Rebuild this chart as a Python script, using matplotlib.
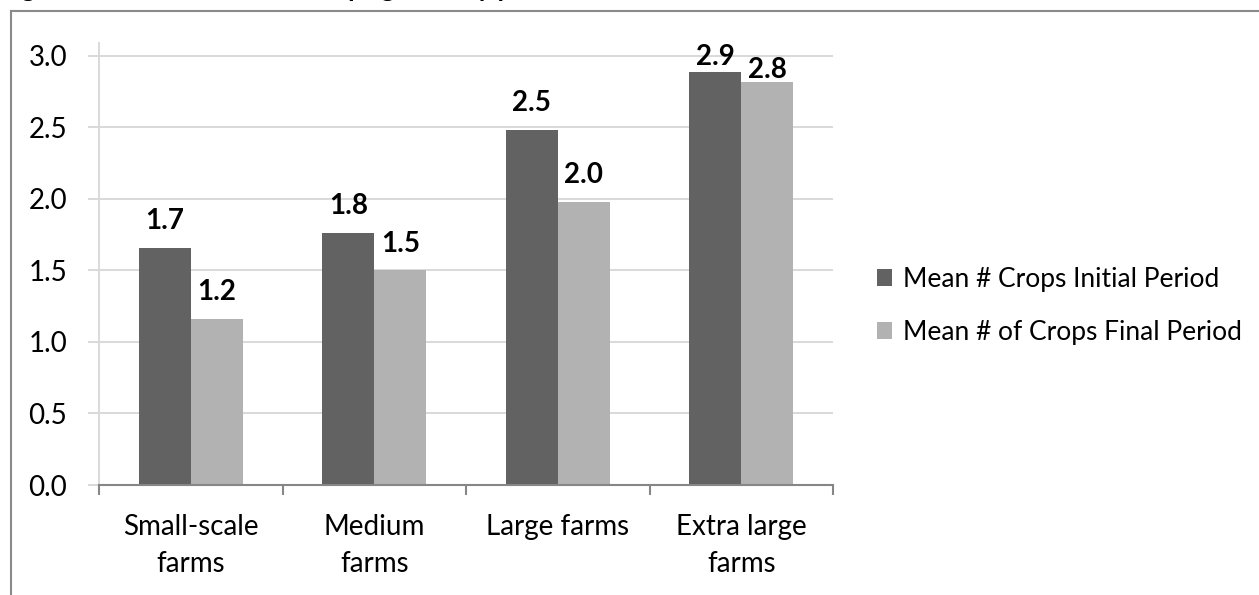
import matplotlib.pyplot as plt
import numpy as np
from matplotlib.lines import Line2D

FONT = "Lato"
DARK = "#626262"
LIGHT = "#b2b2b2"
GRID = "#d9d9d9"
AXIS = "#868686"
TEXT_SIZE = 20

categories = ["Small-scale\nfarms", "Medium\nfarms", "Large farms", "Extra large\nfarms"]
initial_period = [1.66, 1.76, 2.48, 2.89]
final_period = [1.16, 1.50, 1.98, 2.82]
series_names = ["Mean # Crops Initial Period", "Mean # of Crops Final Period"]
y_ticks = [0.0, 0.5, 1.0, 1.5, 2.0, 2.5, 3.0]

plt.rcParams["font.family"] = [FONT, "DejaVu Sans"]

W, H = 1259, 595
fig = plt.figure(figsize=(W / 100, H / 100), dpi=100)

# frame around the chart object (cut on the right and at the bottom)
fig.add_artist(Line2D([11 / W, 1.0], [1 - 11 / H, 1 - 11 / H], color="#8a8a8a", lw=1.5))
fig.add_artist(Line2D([11 / W, 11 / W], [0.0, 1 - 11 / H], color="#8a8a8a", lw=1.5))

# caption line sitting above the frame
fig.text(0.0, 1 + 3 / H, "Figure 4: Mean number of crops grown by period and farm size",
         fontsize=19, fontweight="bold", va="baseline", ha="left")

ax = fig.add_axes([99 / W, 110 / H, 734 / W, 442 / H])
x = np.arange(len(categories))
width = 0.283

bars_initial = ax.bar(x - width / 2, initial_period, width, color=DARK, label=series_names[0])
bars_final = ax.bar(x + width / 2, final_period, width, color=LIGHT, label=series_names[1])


def label_bars(bars, paddings):
    # value labels above each bar; the tallest ones are pulled down to fit
    for bar, pad in zip(bars, paddings):
        h = bar.get_height()
        ax.annotate(f"{h:.1f}", xy=(bar.get_x() + bar.get_width() / 2, h),
                    xytext=(0, pad), textcoords="offset points",
                    ha="center", va="bottom", fontsize=TEXT_SIZE, fontweight="bold")


label_bars(bars_initial, [10, 10, 10, 1])
label_bars(bars_final, [10, 10, 10, -1])

ax.set_xlim(-0.5, len(categories) - 0.5)
ax.set_ylim(0, 3.09)
ax.set_yticks(y_ticks)
ax.set_yticklabels([f"{v:.1f}" for v in y_ticks])
ax.tick_params(axis="y", direction="out", length=8, width=1.4, color=GRID,
               pad=15, labelsize=TEXT_SIZE)

ax.set_xticks(np.arange(-0.5, len(categories)), labels=[])
ax.set_xticks(x, labels=categories, minor=True)
ax.tick_params(axis="x", which="major", direction="out", length=7.2, width=1.5, color=AXIS)
ax.tick_params(axis="x", which="minor", length=0, pad=21, labelsize=TEXT_SIZE)
for lbl in ax.get_xticklabels(minor=True):
    lbl.set_linespacing(1.5)

ax.grid(axis="y", color=GRID, lw=1.4)
ax.set_axisbelow(True)
for side in ("top", "right"):
    ax.spines[side].set_visible(False)
ax.spines["left"].set_color(GRID)
ax.spines["left"].set_linewidth(1.4)
ax.spines["bottom"].set_color(AXIS)
ax.spines["bottom"].set_linewidth(1.5)

fig.legend(loc="center left", bbox_to_anchor=(866 / W, 1 - 306 / H), frameon=False,
           fontsize=19, handlelength=0.6, handleheight=0.6, handletextpad=0.4,
           labelspacing=1.05, borderaxespad=0)

fig.savefig("out.png", dpi=100)
